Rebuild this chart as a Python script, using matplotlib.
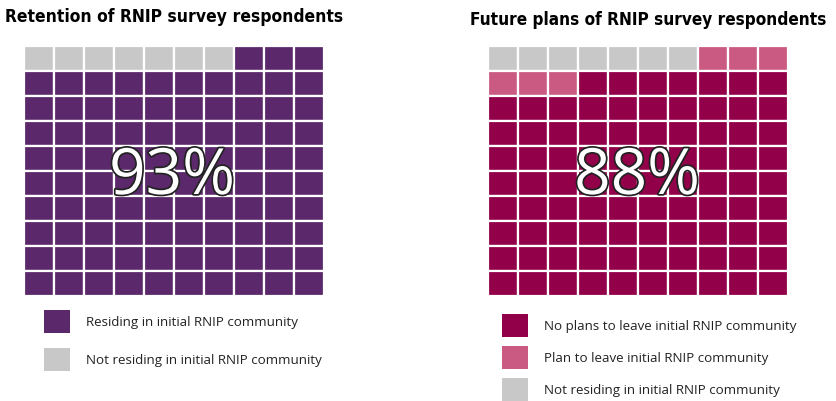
import matplotlib.pyplot as plt
import matplotlib.patheffects as pe
from matplotlib.patches import Rectangle

# waffle cell counts, filled row by row from top-left
left_labels = ["Not residing in initial RNIP community", "Residing in initial RNIP community"]
left_counts = [7, 93]
left_colors = ["#c8c8c8", "#5b296b"]

right_labels = ["Not residing in initial RNIP community", "Plan to leave initial RNIP community",
                "No plans to leave initial RNIP community"]
right_counts = [7, 6, 87]
right_colors = ["#c8c8c8", "#cb5a82", "#92004a"]

titles = ["Retention of RNIP survey respondents", "Future plans of RNIP survey respondents"]
pcts = ["93%", "88%"]

W, H = 836, 402
fig = plt.figure(figsize=(W / 100, H / 100), dpi=100)
ax = fig.add_axes([0, 0, 1, 1])
ax.set_xlim(0, W)
ax.set_ylim(H, 0)
ax.axis("off")


def fit_title(x, y, s, width):
    t = ax.text(x, y, s, fontsize=13, fontweight="bold", va="center", ha="left",
                fontstretch="condensed", family="DejaVu Sans")
    fig.canvas.draw()
    w = t.get_window_extent().width
    if w > width:
        t.set_fontsize(13 * width / w)


def waffle(x0, y0, counts, colors, cw=30, ch=25):
    cols = []
    for n, c in zip(counts, colors):
        cols += [c] * n
    for i, c in enumerate(cols):
        r, k = divmod(i, 10)
        ax.add_patch(Rectangle((x0 + k * cw, y0 + r * ch), cw, ch,
                               facecolor=c, edgecolor="white", linewidth=1.6))


def legend(x, ys, labels, colors):
    for y, lab, c in zip(ys, labels, colors):
        ax.add_patch(Rectangle((x, y), 26, 23, facecolor=c, edgecolor="none"))
        ax.text(x + 42, y + 12, lab, fontsize=9.6, va="center", ha="left",
                family=["Open Sans", "DejaVu Sans"], color="#222222")


waffle(24, 47, left_counts, left_colors)
waffle(488, 47, right_counts, right_colors)

fit_title(5, 17, titles[0], 337)
fit_title(470, 20, titles[1], 356)

for x, t in zip([172, 637], pcts):
    ax.text(x, 178, t, fontsize=46, color="white", ha="center", va="center",
            family=["Open Sans", "DejaVu Sans"],
            path_effects=[pe.withStroke(linewidth=2.5, foreground="#222222")])

legend(44, [311, 349], left_labels[::-1], left_colors[::-1])
legend(502, [315, 347, 379], right_labels[::-1], right_colors[::-1])

fig.savefig("out.png", dpi=100)
